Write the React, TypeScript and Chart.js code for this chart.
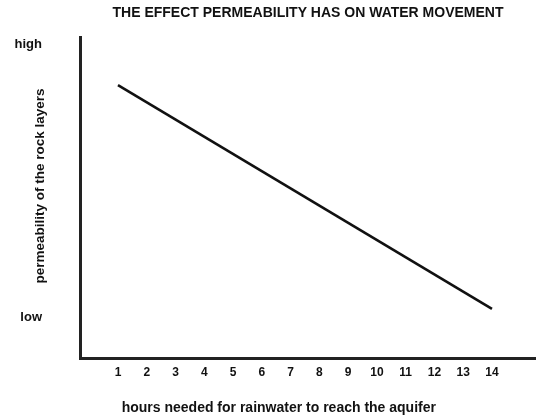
import React, { useEffect, useRef } from "react";
import { Chart, registerables } from "chart.js";

Chart.register(...registerables);

const chartTitle = "THE EFFECT PERMEABILITY HAS ON WATER MOVEMENT";
const xAxisTitle = "hours needed for rainwater to reach the aquifer";
const yAxisTitle = "permeability of the rock layers";

const hourTicks = [1, 2, 3, 4, 5, 6, 7, 8, 9, 10, 11, 12, 13, 14];
const lineHours = [1, 14];
const linePermeability = [0.85, 0.03];
const yTickValues = [0, 1];
const yTickLabels = ["low", "high"];

const FONT = '"Liberation Sans", Arial, Helvetica, sans-serif';
const INK = "#111111";

const axisTitlesPlugin = {
  id: "axisTitlesText",
  afterDraw(chart: any) {
    const { ctx, chartArea } = chart;
    ctx.save();
    ctx.fillStyle = INK;
    ctx.textAlign = "center";
    ctx.textBaseline = "middle";
    ctx.font = `bold 14px ${FONT}`;
    const x = chartArea.left + (chartArea.right - chartArea.left) * 0.436;
    ctx.fillText(xAxisTitle, x, chart.height - 11);
    ctx.font = `bold 13.5px ${FONT}`;
    ctx.translate(chartArea.left * 0.5, chartArea.top + (chartArea.bottom - chartArea.top) * 0.464);
    ctx.rotate(-Math.PI / 2);
    ctx.fillText(yAxisTitle, 0, 0);
    ctx.restore();
  },
};

export default function App() {
  const ref = useRef<HTMLCanvasElement | null>(null);

  useEffect(() => {
    if (!ref.current) return;
    const chart = new Chart(ref.current, {
      type: "line",
      data: {
        datasets: [
          {
            data: lineHours.map((h, i) => ({ x: h, y: linePermeability[i] })),
            borderColor: "#111111",
            borderWidth: 2.6,
            pointRadius: 0,
            fill: false,
            tension: 0,
          },
        ],
      },
      options: {
        responsive: false,
        animation: false,
        devicePixelRatio: 1,
        layout: { padding: 0 },
        plugins: {
          legend: { display: false },
          tooltip: { enabled: false },
          title: {
            display: true,
            text: chartTitle,
            fullSize: false,
            color: INK,
            font: { family: FONT, size: 14, weight: "bold" },
            padding: { top: 4.6, bottom: 15.6 },
          },
        },
        scales: {
          x: {
            type: "linear",
            min: -0.32,
            max: 15.53,
            afterBuildTicks: (s: any) => {
              s.ticks = hourTicks.map((v) => ({ value: v }));
            },
            afterFit: (s: any) => {
              s.height = 61;
              s.paddingLeft = 0;
              s.paddingRight = 0;
            },
            grid: { display: false, drawTicks: false },
            border: { display: true, color: "#222222", width: 3 },
            ticks: {
              color: INK,
              padding: 7,
              font: { family: FONT, size: 12, weight: "bold" },
              callback: (v: any) => String(v),
            },
          },
          y: {
            type: "linear",
            min: -0.15,
            max: 1.026,
            afterBuildTicks: (s: any) => {
              s.ticks = yTickValues.map((v) => ({ value: v }));
            },
            afterFit: (s: any) => {
              s.width = 80;
              s.paddingTop = 0;
              s.paddingBottom = 0;
            },
            grid: { display: false, drawTicks: false },
            border: { display: true, color: "#222222", width: 3 },
            ticks: {
              color: INK,
              padding: 38,
              font: { family: FONT, size: 13, weight: "bold" },
              callback: (v: any) => {
                const i = yTickValues.indexOf(Number(v));
                return i >= 0 ? yTickLabels[i] : "";
              },
            },
            title: { display: false },
          },
        },
      },
      plugins: [axisTitlesPlugin],
    });
    return () => chart.destroy();
  }, []);

  return (
    <div style={{ position: "fixed", left: 0, top: 0, width: 536, height: 419, background: "#ffffff" }}>
      <canvas ref={ref} width={536} height={419} style={{ width: 536, height: 419, display: "block" }} />
    </div>
  );
}
